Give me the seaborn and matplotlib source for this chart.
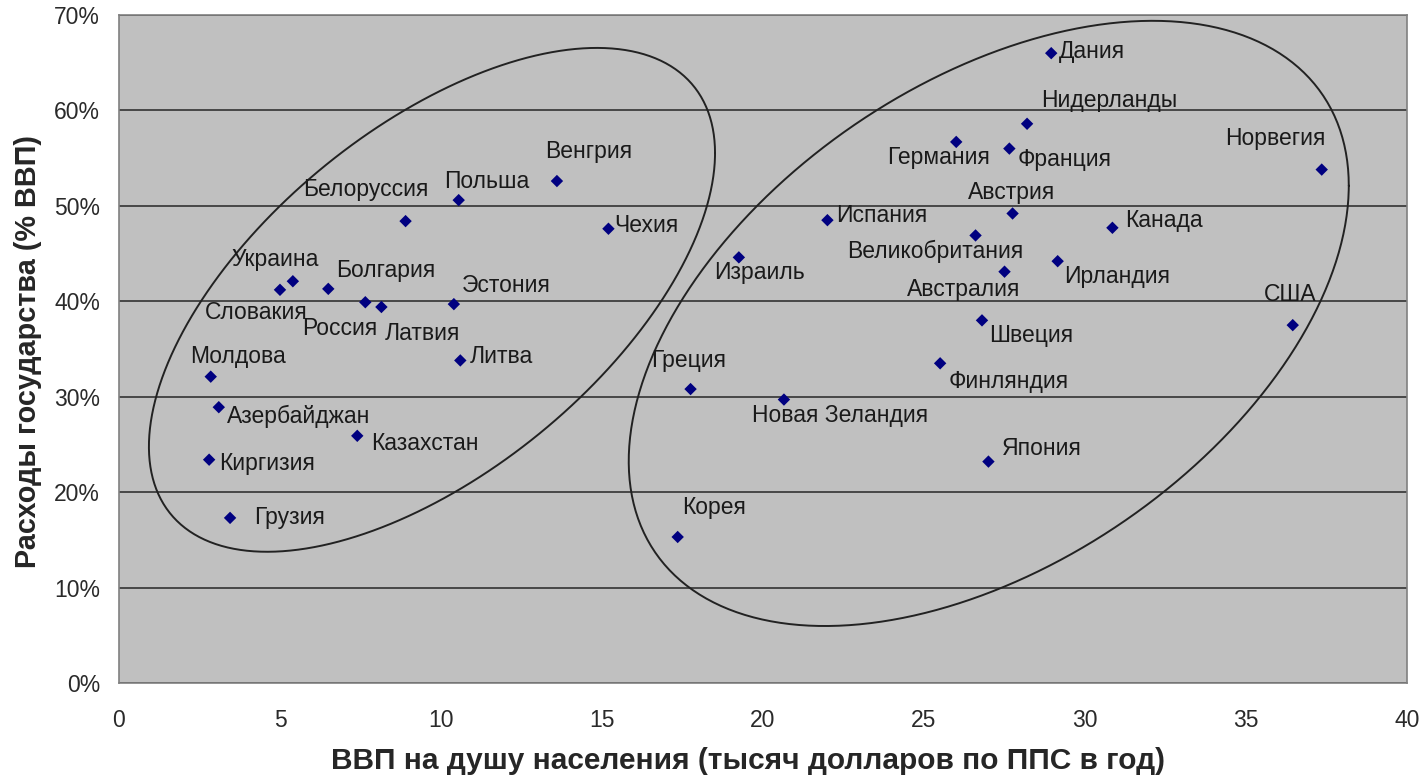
import numpy as np
import pandas as pd
import matplotlib.pyplot as plt
import seaborn as sns
from matplotlib.ticker import FuncFormatter, MultipleLocator

# GDP per capita (thousand USD PPP) and government spending (% of GDP)
countries = [
    "Венгрия", "Польша", "Белоруссия", "Чехия", "Украина", "Словакия",
    "Болгария", "Россия", "Латвия", "Эстония", "Литва", "Молдова",
    "Азербайджан", "Казахстан", "Киргизия", "Грузия",
    "Дания", "Нидерланды", "Германия", "Франция", "Норвегия", "Австрия",
    "Испания", "Канада", "Великобритания", "Израиль", "Ирландия",
    "Австралия", "США", "Швеция", "Финляндия", "Греция",
    "Новая Зеландия", "Япония", "Корея",
]
gdp = [
    13.6, 10.55, 8.9, 15.2, 5.4, 5.0,
    6.5, 7.65, 8.15, 10.4, 10.6, 2.85,
    3.1, 7.4, 2.8, 3.45,
    28.95, 28.2, 26.0, 27.65, 37.35, 27.75,
    22.0, 30.85, 26.6, 19.25, 29.15,
    27.5, 36.45, 26.8, 25.5, 17.75,
    20.65, 27.0, 17.35,
]
spending = [
    52.6, 50.6, 48.4, 47.6, 42.1, 41.2,
    41.3, 39.9, 39.4, 39.7, 33.8, 32.1,
    28.9, 25.9, 23.4, 17.3,
    66.0, 58.6, 56.7, 56.0, 53.8, 49.2,
    48.5, 47.7, 46.9, 44.6, 44.2,
    43.1, 37.5, 38.0, 33.5, 30.8,
    29.7, 23.2, 15.3,
]

# label offsets from the marker, in pixels (dx right, dy down)
label_offsets = {
    "Венгрия": (-12, -30), "Польша": (-15, -19), "Белоруссия": (-102, -32),
    "Чехия": (6, -3), "Украина": (-61, -22), "Словакия": (-75, 23),
    "Болгария": (8, -18), "Россия": (-63, 26), "Латвия": (3, 26),
    "Эстония": (8, -19), "Литва": (9, -4), "Молдова": (-21, -20),
    "Азербайджан": (8, 9), "Казахстан": (14, 8), "Киргизия": (10, 4),
    "Грузия": (24, 0), "Дания": (8, -2), "Нидерланды": (14, -23),
    "Германия": (-69, 16), "Франция": (8, 11), "Норвегия": (-97, -31),
    "Австрия": (-45, -21), "Испания": (9, -5), "Канада": (13, -7),
    "Великобритания": (-128, 16), "Израиль": (-25, 15), "Ирландия": (6, 15),
    "Австралия": (-98, 18), "США": (-29, -31), "Швеция": (7, 15),
    "Финляндия": (8, 18), "Греция": (-39, -29), "Новая Зеландия": (-32, 16),
    "Япония": (13, -13), "Корея": (4, -29),
}

# hand-drawn groupings: centre, x half-extent, y half-extent, x shift of top point
left_group = (9.72, 40.15, 8.79, 26.4, 5.12)
right_group = (27.01, 37.68, 11.18, 31.71, 5.09)


def ellipse(ax, cx, cy, rx, ry, top_shift):
    t = np.linspace(0, 2 * np.pi, 400)
    k = top_shift * ry / rx
    x = cx + rx * np.cos(t)
    y = cy + k * np.cos(t) + np.sqrt(ry ** 2 - k ** 2) * np.sin(t)
    ax.plot(x, y, color="#222222", lw=1.4, zorder=2)


df = pd.DataFrame({"country": countries, "gdp": gdp, "spending": spending})

sns.set_style("white")
plt.rcParams["font.family"] = ["Liberation Sans", "DejaVu Sans"]

fig = plt.figure(figsize=(14.23, 7.81), dpi=100)
ax = fig.add_axes([0.0836, 0.1255, 0.9052, 0.8553])
ax.set_facecolor("#c0c0c0")

sns.scatterplot(data=df, x="gdp", y="spending", marker="D", s=40,
                color="#000080", edgecolor="none", ax=ax, zorder=3)

for name, x, y in zip(countries, gdp, spending):
    dx, dy = label_offsets[name]
    ax.annotate(name, (x, y), xytext=(dx, -dy), textcoords="offset pixels",
                ha="left", va="center", fontsize=16.5, color="#1a1a1a", zorder=4)

ellipse(ax, *left_group)
ellipse(ax, *right_group)

ax.set_xlim(0, 40)
ax.set_ylim(0, 70)
ax.xaxis.set_major_locator(MultipleLocator(5))
ax.yaxis.set_major_locator(MultipleLocator(10))
ax.yaxis.set_major_formatter(FuncFormatter(lambda v, _: f"{v:.0f}%"))
ax.grid(axis="y", color="#333333", lw=1.2)
ax.set_axisbelow(True)
ax.tick_params(axis="both", direction="out", length=4.5, width=1, color="#555555",
               labelsize=16.5, labelcolor="#2a2a2a")
ax.tick_params(axis="x", pad=14)
ax.tick_params(axis="y", pad=9)
for side in ax.spines.values():
    side.set_color("#808080")
    side.set_linewidth(1.2)

ax.set_xlabel("ВВП на душу населения (тысяч долларов по ППС в год)",
              fontsize=21.5, fontweight="bold", va="center")
ax.xaxis.set_label_coords(0.488, -0.1168)
ax.set_ylabel("Расходы государства (% ВВП)", fontsize=20.8, fontweight="bold",
              va="center", ha="center")
ax.yaxis.set_label_coords(-0.0707, 0.4963)

fig.savefig("out.png", dpi=100)
